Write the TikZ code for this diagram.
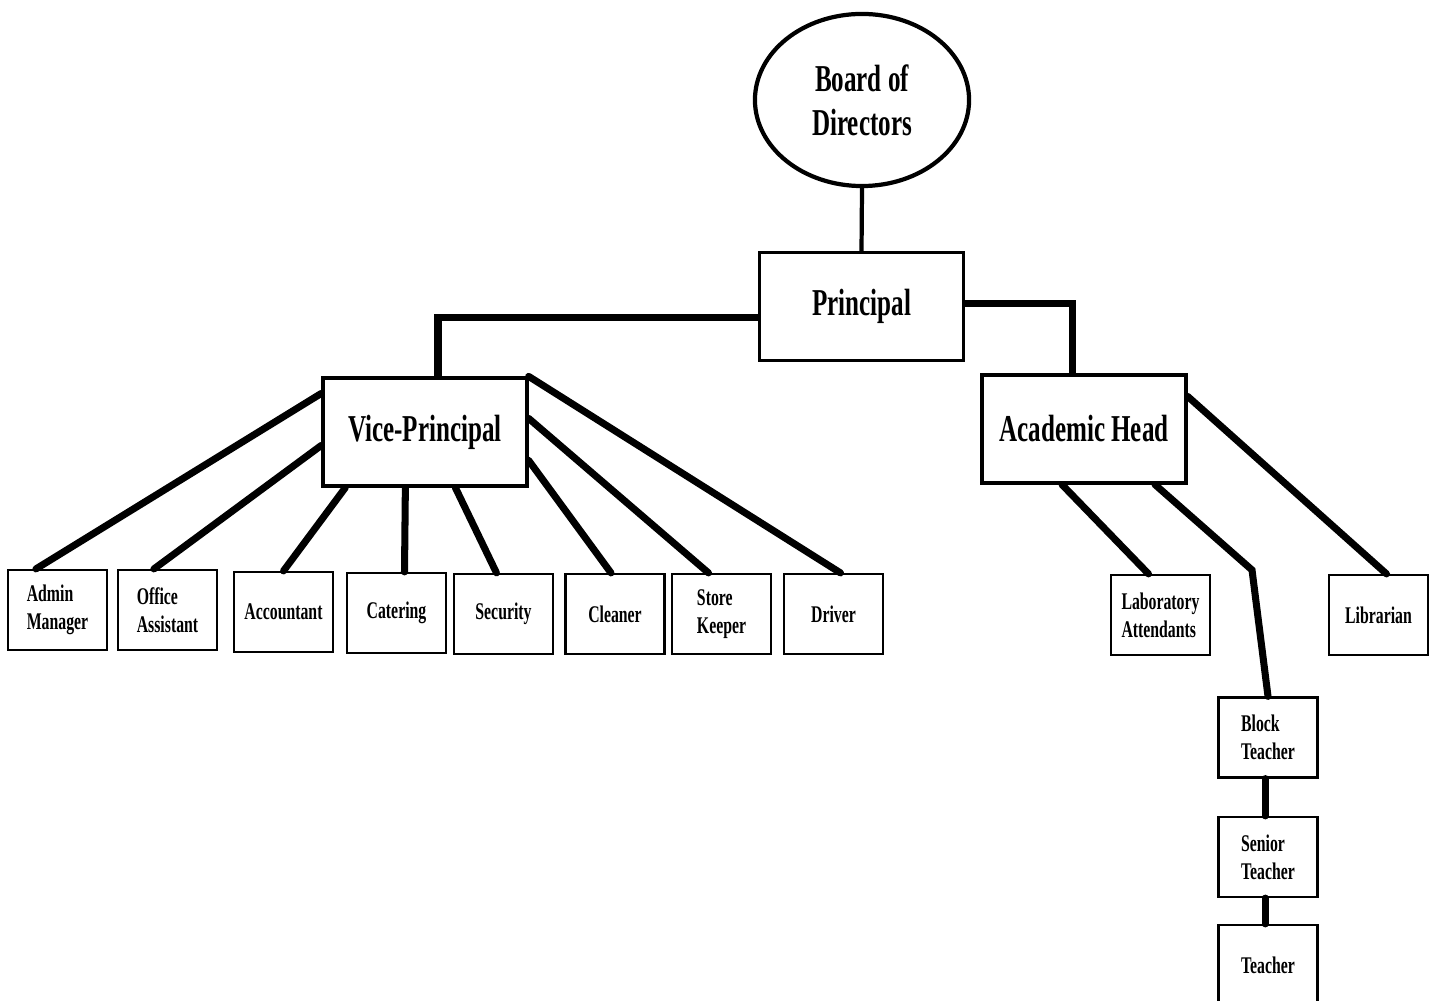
\documentclass[tikz,border=0pt]{standalone}
\usepackage{fontspec}
\newfontfamily\orgfont[FakeStretch=0.66]{Liberation Serif}
\usetikzlibrary{shapes,calc}

\begin{document}
\begin{tikzpicture}[x=0.01cm, y=-0.01cm,
  big node/.style={draw, line width=0.9pt, minimum width=2.04cm, minimum height=1.08cm, inner sep=0pt, font=\orgfont\bfseries\fontsize{10.8}{12.5}\selectfont},
  small node/.style={draw, line width=0.6pt, minimum width=0.99cm, minimum height=0.8cm, inner sep=0pt, align=left, font=\orgfont\bfseries\fontsize{6.8}{8}\selectfont},
  link/.style={line width=2pt, line cap=round}]
\useasboundingbox (0,0) rectangle (1434,1001);
% top of the chart
\node[ellipse, draw, line width=1.2pt, minimum width=2.14cm, minimum height=1.72cm, align=center, font=\orgfont\bfseries\fontsize{10.8}{12.5}\selectfont] (bod) at (862,100) {Board of\\Directors};
\node[big node] (prin) at (861.5,306.5) {Principal};
\node[big node] (vp) at (425,432) {Vice-Principal};
\node[big node] (ah) at (1084,429) {Academic Head};
% staff under the vice-principal
\node[small node] (admin) at (57.5,610) {Admin\\Manager};
\node[small node] (office) at (167.5,610) {Office\\Assistant};
\node[small node] (acc) at (283.5,612) {Accountant};
\node[small node] (cat) at (396.5,613) {Catering};
\node[small node] (sec) at (503.5,614) {Security};
\node[small node] (clean) at (615,614) {Cleaner};
\node[small node] (store) at (721.5,614) {Store\\Keeper};
\node[small node] (driver) at (833.5,614) {Driver};
% academic side
\node[small node] (lab) at (1160.5,615) {Laboratory\\Attendants};
\node[small node] (lib) at (1378.5,615) {Librarian};
\node[small node] (block) at (1268,737.5) {Block\\Teacher};
\node[small node] (senior) at (1268,857) {Senior\\Teacher};
\node[small node] (teacher) at (1268,965) {Teacher};

\draw[line width=1.2pt] (bod.south) -- (prin.north);
\draw[link, line cap=butt] ($(prin.west)+(0,11)$) -| ($(vp.north)+(13,0)$);
\draw[link, line cap=butt] ($(prin.east)+(0,-3)$) -| ($(ah.north)+(-12,0)$);

\draw[link] ($(vp.north west)+(0,17)$) -- ($(admin.north west)+(29,0)$);
\draw[link] ($(vp.north west)+(0,69)$) -- ($(office.north west)+(37,0)$);
\draw[link] ($(vp.south west)+(24,0)$) -- (acc.north);
\draw[link] ($(vp.south west)+(84,0)$) -- ($(cat.north)+(8,0)$);
\draw[link] ($(vp.south west)+(134,0)$) -- ($(sec.north)+(-7,0)$);
\draw[link] ($(vp.north east)+(0,84)$) -- ($(clean.north)+(-4,0)$);
\draw[link] ($(vp.north east)+(0,42)$) -- ($(store.north)+(-13,0)$);
\draw[link] (vp.north east) -- ($(driver.north)+(7,0)$);

\draw[link] ($(ah.south)+(-22,0)$) -- ($(lab.north)+(-12,0)$);
\draw[link] ($(ah.south)+(71,0)$) -- (1252,570) -- (block.north);
\draw[link] ($(ah.north east)+(0,23)$) -- ($(lib.north)+(8,0)$);
\draw[link] ($(block.south)+(-3,0)$) -- ($(senior.north)+(-3,0)$);
\draw[link] ($(senior.south)+(-3,0)$) -- ($(teacher.north)+(-3,0)$);
\end{tikzpicture}
\end{document}
